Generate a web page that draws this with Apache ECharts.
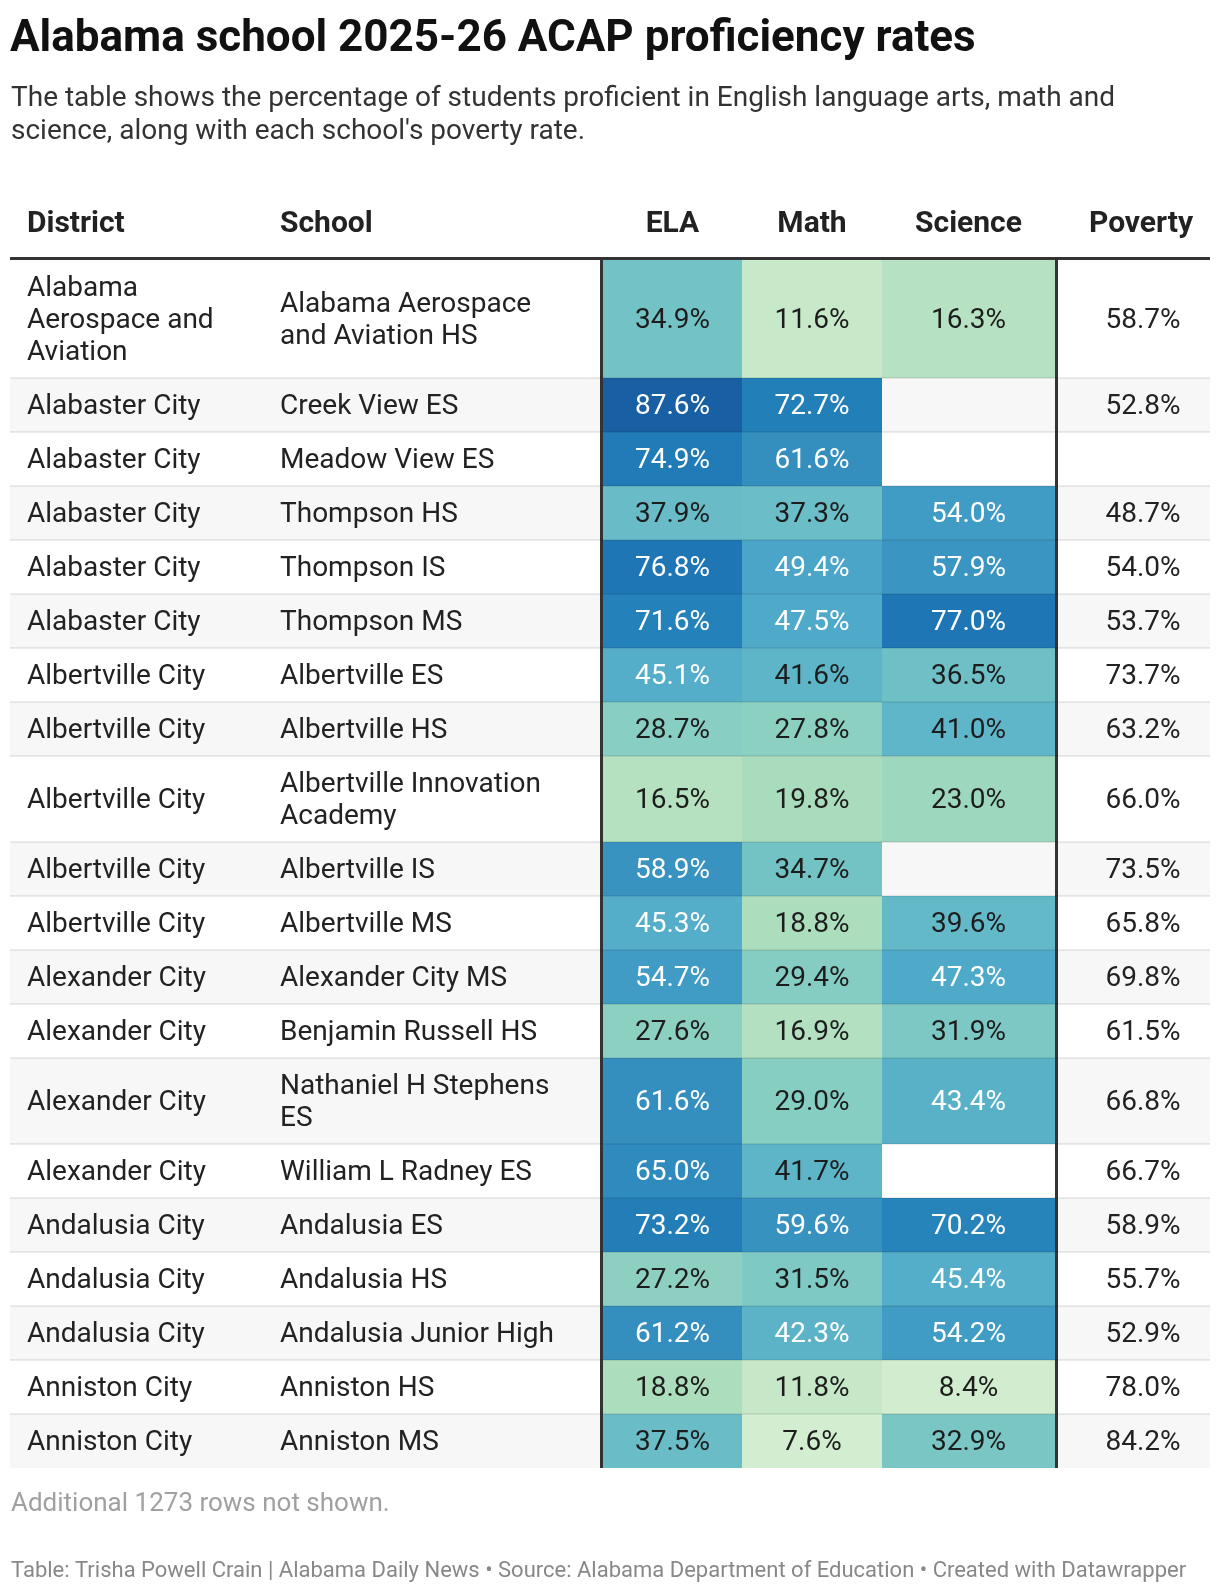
<!DOCTYPE html>
<html>
<head>
<meta charset="utf-8">
<script src="https://cdn.jsdelivr.net/npm/echarts@6.0.0/dist/echarts.min.js"></script>
<style>
  html, body { margin: 0; padding: 0; background: #fff; }
  #chart { width: 1220px; height: 1592px; }
</style>
</head>
<body>
<div id="chart"></div>
<script>
// table data
var districts = ['Alabama Aerospace and Aviation', 'Alabaster City', 'Alabaster City', 'Alabaster City', 'Alabaster City',
  'Alabaster City', 'Albertville City', 'Albertville City', 'Albertville City', 'Albertville City', 'Albertville City',
  'Alexander City', 'Alexander City', 'Alexander City', 'Alexander City', 'Andalusia City', 'Andalusia City',
  'Andalusia City', 'Anniston City', 'Anniston City'];
var schools = ['Alabama Aerospace and Aviation HS', 'Creek View ES', 'Meadow View ES', 'Thompson HS', 'Thompson IS',
  'Thompson MS', 'Albertville ES', 'Albertville HS', 'Albertville Innovation Academy', 'Albertville IS', 'Albertville MS',
  'Alexander City MS', 'Benjamin Russell HS', 'Nathaniel H Stephens ES', 'William L Radney ES', 'Andalusia ES',
  'Andalusia HS', 'Andalusia Junior High', 'Anniston HS', 'Anniston MS'];
var ela = [34.9, 87.6, 74.9, 37.9, 76.8, 71.6, 45.1, 28.7, 16.5, 58.9, 45.3, 54.7, 27.6, 61.6, 65.0, 73.2, 27.2, 61.2, 18.8, 37.5];
var math = [11.6, 72.7, 61.6, 37.3, 49.4, 47.5, 41.6, 27.8, 19.8, 34.7, 18.8, 29.4, 16.9, 29.0, 41.7, 59.6, 31.5, 42.3, 11.8, 7.6];
var science = [16.3, null, null, 54.0, 57.9, 77.0, 36.5, 41.0, 23.0, null, 39.6, 47.3, 31.9, 43.4, null, 70.2, 45.4, 54.2, 8.4, 32.9];
var poverty = [58.7, 52.8, null, 48.7, 54.0, 53.7, 73.7, 63.2, 66.0, 73.5, 65.8, 69.8, 61.5, 66.8, 66.7, 58.9, 55.7, 52.9, 78.0, 84.2];
var headers = ['District', 'School', 'ELA', 'Math', 'Science', 'Poverty'];

// layout (pixels)
var FONT = 'Roboto, "Noto Sans", sans-serif';
var TEXT = '#222';
var TOP = 260;
var colDistrict = 27, colSchool = 280, colPoverty = 1143;
var heatCols = [[603, 742], [742, 882], [882, 1055]];
var wrapDistrict = 215, wrapSchool = 290;
var textShift = 2;

// word wrap with canvas measure
var ctx = document.createElement('canvas').getContext('2d');
ctx.font = '28px Roboto';
function wrap(str, w) {
  var words = str.split(' '), lines = [], cur = '';
  words.forEach(function (wd) {
    var t = cur ? cur + ' ' + wd : wd;
    if (cur && ctx.measureText(t).width > w) { lines.push(cur); cur = wd; }
    else cur = t;
  });
  lines.push(cur);
  return lines;
}

var dLines = districts.map(function (d) { return wrap(d, wrapDistrict); });
var sLines = schools.map(function (s) { return wrap(s, wrapSchool); });
var rowStart = [], rowEnd = [], acc = 0;
dLines.forEach(function (l, i) {
  var n = Math.max(l.length, sLines[i].length);
  rowStart.push(acc);
  acc += 54 + (n - 1) * 32;
  rowEnd.push(acc);
});
var totalH = acc;

function rowData() {
  return districts.map(function (d, i) { return [i, rowStart[i], rowEnd[i]]; });
}
function heatData(arr) {
  var out = [];
  arr.forEach(function (v, i) { if (v != null) out.push([i, rowStart[i], rowEnd[i], v]); });
  return out;
}

function renderRow(params, api) {
  var i = api.value(0);
  var p0 = api.coord([10, api.value(1)]);
  var p1 = api.coord([1210, api.value(2)]);
  var cy = (p0[1] + p1[1]) / 2 + textShift;
  var kids = [];
  if (i % 2 === 1) {
    kids.push({ type: 'rect', shape: { x: p0[0], y: p0[1], width: p1[0] - p0[0], height: p1[1] - p0[1] }, style: { fill: '#f7f7f7' } });
  }
  var txt = function (s, x, align) {
    return { type: 'text', style: { text: s, x: x, y: cy, fill: TEXT, fontSize: 28, fontFamily: FONT, lineHeight: 32, align: align, verticalAlign: 'middle' } };
  };
  kids.push(txt(dLines[i].join('\n'), colDistrict, 'left'));
  kids.push(txt(sLines[i].join('\n'), colSchool, 'left'));
  if (poverty[i] != null) kids.push(txt(poverty[i].toFixed(1) + '%', colPoverty, 'center'));
  return { type: 'group', children: kids };
}

function makeHeat(c) {
  return function (params, api) {
    var v = api.value(3);
    var p0 = api.coord([heatCols[c][0], api.value(1)]);
    var p1 = api.coord([heatCols[c][1], api.value(2)]);
    return {
      type: 'group',
      children: [
        { type: 'rect', shape: { x: p0[0], y: p0[1], width: p1[0] - p0[0], height: p1[1] - p0[1] }, style: { fill: api.visual('color') } },
        { type: 'text', style: { text: v.toFixed(1) + '%', x: (p0[0] + p1[0]) / 2, y: (p0[1] + p1[1]) / 2 + textShift, fill: v >= 42 ? '#fff' : '#1d1d1d',
          fontSize: 28, fontFamily: FONT, align: 'center', verticalAlign: 'middle' } }
      ]
    };
  };
}

function renderLines(params, api) {
  var i = api.value(0);
  var p0 = api.coord([10, api.value(1)]);
  var p1 = api.coord([1210, api.value(2)]);
  var kids = [];
  if (i > 0) {
    kids.push({ type: 'rect', shape: { x: p0[0], y: p0[1] - 1, width: p1[0] - p0[0], height: 2 }, style: { fill: 'rgba(0,0,0,0.08)' } });
  }
  [600, 1055].forEach(function (x) {
    var a = api.coord([x, api.value(1)]);
    kids.push({ type: 'rect', shape: { x: a[0], y: p0[1], width: 3, height: p1[1] - p0[1] }, style: { fill: '#333' } });
  });
  return { type: 'group', children: kids };
}

var headerX = [colDistrict, colSchool, (heatCols[0][0] + heatCols[0][1]) / 2, (heatCols[1][0] + heatCols[1][1]) / 2,
  (heatCols[2][0] + heatCols[2][1]) / 2, 1141];
var headerEls = headers.map(function (h, i) {
  return { type: 'text', x: headerX[i], y: 224, style: { text: h, fill: '#222', fontSize: 30, fontWeight: 'bold', fontFamily: FONT,
    align: i < 2 ? 'left' : 'center', verticalAlign: 'middle' } };
});

var chart = echarts.init(document.getElementById('chart'), null, { renderer: 'canvas' });
var option = {
  backgroundColor: '#fff',
  animation: false,
  grid: { left: 10, right: 10, top: TOP, height: totalH },
  xAxis: { type: 'value', min: 10, max: 1210, show: false },
  yAxis: { type: 'value', min: 0, max: totalH, inverse: true, show: false },
  visualMap: {
    type: 'continuous', show: false, min: 0, max: 90, dimension: 3, seriesIndex: [1, 2, 3],
    inRange: { color: ['#e4f5df', '#cdeacb', '#a8dcbc', '#83ccc3', '#62b8c8', '#48a4c9', '#3691c0', '#2784bb', '#1a71b1', '#185a9f'] }
  },
  graphic: [
    { type: 'text', x: 10, y: 40, style: { text: 'Alabama school 2025-26 ACAP proficiency rates', fill: '#111', fontSize: 44, fontWeight: 'bold', fontFamily: FONT, verticalAlign: 'middle' } },
    { type: 'text', x: 11, y: 82, style: { text: "The table shows the percentage of students proficient in English language arts, math and\nscience, along with each school's poverty rate.",
      fill: '#333', fontSize: 28, lineHeight: 33, fontFamily: FONT, verticalAlign: 'top' } },
    { type: 'rect', shape: { x: 10, y: 257, width: 1200, height: 3 }, style: { fill: '#333' } },
    { type: 'text', x: 11, y: 1504, style: { text: 'Additional 1273 rows not shown.', fill: '#a0a0a0', fontSize: 26, fontFamily: FONT, verticalAlign: 'middle' } },
    { type: 'text', x: 11, y: 1571, style: { text: 'Table: Trisha Powell Crain | Alabama Daily News \u2022 Source: Alabama Department of Education \u2022 Created with Datawrapper',
      fill: '#888', fontSize: 22, fontFamily: FONT, verticalAlign: 'middle' } }
  ].concat(headerEls),
  series: [
    { type: 'custom', name: 'rows', renderItem: renderRow, data: rowData(), z: 1 },
    { type: 'custom', name: 'ELA', renderItem: makeHeat(0), data: heatData(ela), z: 2 },
    { type: 'custom', name: 'Math', renderItem: makeHeat(1), data: heatData(math), z: 2 },
    { type: 'custom', name: 'Science', renderItem: makeHeat(2), data: heatData(science), z: 2 },
    { type: 'custom', name: 'lines', renderItem: renderLines, data: rowData(), z: 3 }
  ]
};
chart.setOption(option);
window.onresize = function () { chart.resize(); };
</script>
</body>
</html>
